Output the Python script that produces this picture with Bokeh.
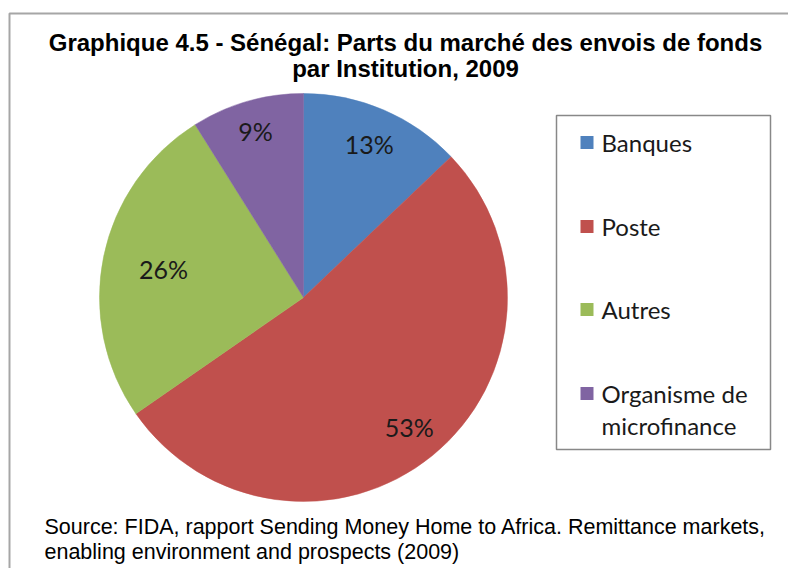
import math
from bokeh.plotting import figure
from bokeh.models import Range1d
from bokeh.core.properties import value
from bokeh.embed import file_html
from bokeh.resources import INLINE

# ---- data ----
categories = ["Banques", "Poste", "Autres", "Organisme de microfinance"]
shares = [13, 53, 26, 9]
colors = ["#4F81BD", "#C0504D", "#9BBB59", "#8064A2"]
title_lines = ["Graphique 4.5 - Sénégal: Parts du marché des envois de fonds",
               "par Institution, 2009"]
source_lines = ["Source: FIDA, rapport Sending Money Home to Africa. Remittance markets,",
                "enabling environment and prospects (2009)"]
legend_wrap = {"Organisme de microfinance": ["Organisme de", "microfinance"]}

# ---- layout ----
W, H = 788, 568
cx, cy, R = 303, 271, 204
label_r = {"Banques": 0.82, "Poste": 0.82, "Autres": 0.70, "Organisme de microfinance": 0.85}

p = figure(width=W, height=H, x_range=Range1d(0, W), y_range=Range1d(0, H),
           output_backend="svg", toolbar_location=None, min_border=0,
           background_fill_color="white", border_fill_color="white")
p.axis.visible = False
p.grid.visible = False
p.outline_line_color = None

# outer chart border
p.line(x=[9, 9, W + 5], y=[-5, 555, 555], line_color="#A6A6A6", line_width=2)

# pie
total = sum(shares)
starts, ends, mids = [], [], []
cum = 0
for s in shares:
    a0 = math.pi / 2 - 2 * math.pi * (cum + s) / total
    a1 = math.pi / 2 - 2 * math.pi * cum / total
    starts.append(a0); ends.append(a1); mids.append((a0 + a1) / 2)
    cum += s
p.wedge(x=cx, y=cy, radius=R, start_angle=starts, end_angle=ends,
        fill_color=colors, line_color=colors, line_width=0.5)

lx = [cx + label_r[c] * R * math.cos(m) for c, m in zip(categories, mids)]
ly = [cy + label_r[c] * R * math.sin(m) for c, m in zip(categories, mids)]
p.text(x=lx, y=ly, text=[f"{s}%" for s in shares], text_align="center",
       text_baseline="middle", text_font=value("Lato"), text_font_size="25px",
       text_color="#1a1a1a")

# title
p.text(x=[405, 405], y=[526, 500], text=title_lines, text_align="center",
       text_baseline="middle", text_font=value("Liberation Sans"),
       text_font_style="bold", text_font_size="24px", text_color="black")

# legend box
p.quad(left=556, right=770, bottom=119, top=453, fill_color="white",
       line_color="#888888", line_width=1.5)
ey = [426, 342, 259, 175]
p.rect(x=[586.5] * 4, y=ey, width=13, height=13, fill_color=colors, line_color=None)
tx, ty, tt = [], [], []
for c, y in zip(categories, ey):
    lines = legend_wrap.get(c, [c])
    for k, ln in enumerate(lines):
        tx.append(601); ty.append(y - 32 * k); tt.append(ln)
p.text(x=tx, y=ty, text=tt, text_align="left", text_baseline="middle",
       text_font=value("Lato"), text_font_size="24px", text_color="#1a1a1a")

# source
p.text(x=[44, 44], y=[42, 17], text=source_lines, text_align="left",
       text_baseline="middle", text_font=value("Liberation Sans"),
       text_font_size="21.5px", text_color="black")

open("out.html", "w").write(file_html(p, INLINE))
